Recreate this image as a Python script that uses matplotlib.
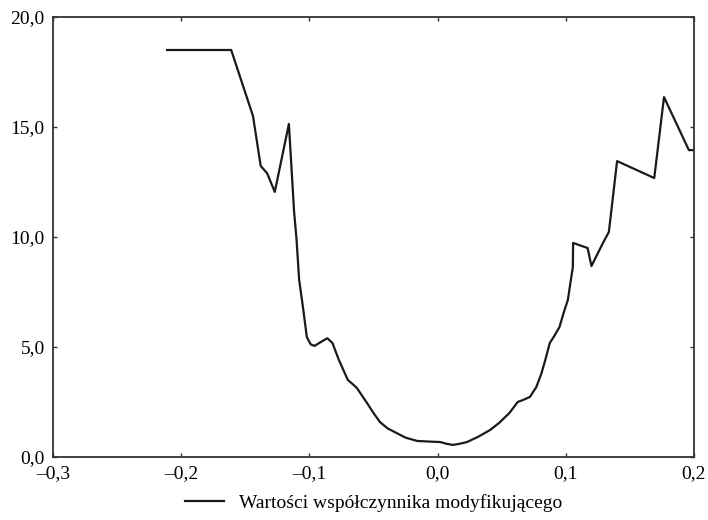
import matplotlib
matplotlib.use("Agg")
import matplotlib.pyplot as plt
from matplotlib.ticker import FixedLocator, FixedFormatter

# values
x_vals = [-0.211, -0.161, -0.144, -0.138, -0.133, -0.127, -0.116, -0.112,
          -0.110, -0.108, -0.105, -0.102, -0.099, -0.096, -0.091, -0.086,
          -0.082, -0.077, -0.070, -0.066, -0.063, -0.055, -0.050, -0.045,
          -0.039, -0.032, -0.025, -0.016, -0.006, 0.002, 0.007, 0.012, 0.017,
          0.023, 0.032, 0.041, 0.048, 0.056, 0.0625, 0.067, 0.072, 0.077,
          0.081, 0.084, 0.0875, 0.091, 0.095, 0.099, 0.1016, 0.1055, 0.1057,
          0.117, 0.120, 0.129, 0.1336, 0.140, 0.169, 0.1766, 0.196, 0.200]
y_vals = [18.5, 18.5, 15.5, 13.23, 12.9, 12.05, 15.14, 11.2,
          9.86, 8.05, 6.8, 5.45, 5.12, 5.05, 5.23, 5.4,
          5.18, 4.41, 3.5, 3.3, 3.14, 2.45, 2.0, 1.59,
          1.3, 1.09, 0.88, 0.73, 0.7, 0.68, 0.6, 0.55, 0.6,
          0.68, 0.93, 1.23, 1.55, 2.0, 2.5, 2.6, 2.73, 3.18,
          3.8, 4.41, 5.18, 5.5, 5.9, 6.68, 7.14, 8.64, 9.73,
          9.5, 8.68, 9.73, 10.23, 13.45, 12.68, 16.36, 13.95, 13.95]

x_ticks = [-0.3, -0.2, -0.1, 0.0, 0.1, 0.2]
x_labels = ["\u20130,3", "\u20130,2", "\u20130,1", "0,0", "0,1", "0,2"]
y_ticks = [0, 5, 10, 15, 20]
y_labels = ["0,0", "5,0", "10,0", "15,0", "20,0"]
series_label = "Wartości współczynnika modyfikującego"

plt.rcParams["font.family"] = ["Liberation Serif", "DejaVu Serif"]

fig = plt.figure(figsize=(7.08, 5.2), dpi=100)
ax = fig.add_axes([53 / 708, 63 / 520, 641 / 708, 440 / 520])

ax.plot(x_vals, y_vals, color="#1a1a1a", lw=1.6, label=series_label)

ax.set_xlim(-0.3, 0.2)
ax.set_ylim(0, 20)
ax.xaxis.set_major_locator(FixedLocator(x_ticks))
ax.xaxis.set_major_formatter(FixedFormatter(x_labels))
ax.yaxis.set_major_locator(FixedLocator(y_ticks))
ax.yaxis.set_major_formatter(FixedFormatter(y_labels))
ax.tick_params(direction="in", length=3, width=1, top=True, right=True,
               labelsize=14, color="#333333", pad=6)

for s in ax.spines.values():
    s.set_linewidth(1.3)
    s.set_color("#333333")

ax.legend(loc="center", bbox_to_anchor=(0.5, -0.105), frameon=False,
          fontsize=14, handlelength=2.0, handletextpad=0.8)

fig.savefig("out.png", dpi=100)
